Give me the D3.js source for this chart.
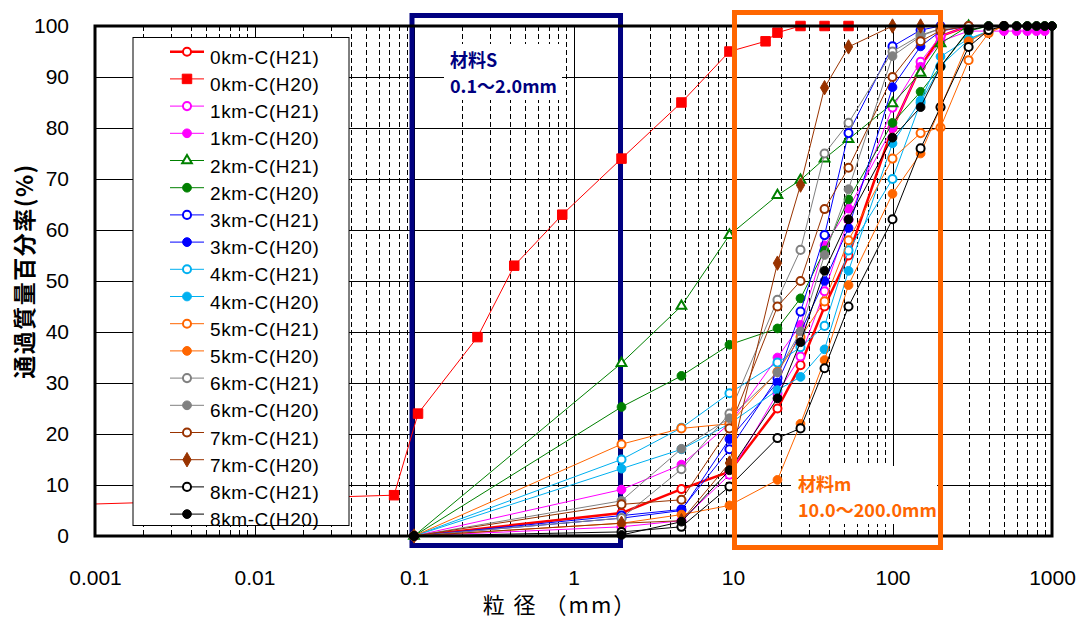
<!DOCTYPE html>
<html>
<head>
<meta charset="utf-8">
<script src="https://cdn.jsdelivr.net/npm/d3@7"></script>
<style>
  html, body { margin: 0; padding: 0; background: #fff; }
  svg { display: block; }
  text { font-family: "Liberation Sans", Arial, "Noto Sans CJK JP", sans-serif; }
  .jp { font-family: "Noto Sans CJK JP", "Liberation Sans", sans-serif; }
</style>
</head>
<body>
<svg id="chart" width="1085" height="619"></svg>
<script>
// Sieve sizes (mm) shared by the 1km–8km samples
const sizes = [0.1, 2, 4.75, 9.5, 19, 26.5, 37.5, 53, 100, 150, 200, 300, 400, 500, 600, 700, 800, 900, 1000];
// 0km-C(H20) was measured on a finer sieve set
const sizes0H20 = [0.0005, 0.075, 0.106, 0.25, 0.425, 0.85, 2, 4.75, 9.5, 16, 19, 26.5, 37.5, 53];

// Percent passing by mass (null = no value at that sieve)
const km0H21 = [0, 4.5, 9.2, 12.6, 25, 33.5, 45, 55, 80, 92, 98, 100, null, null, null, null, null, null, null];
const km0H20 = [6, 8, 24, 39, 53, 63, 74, 85, 95, 97, 98.7, 100, 100, 100];
const km1H21 = [0, 1.8, 3, 12, 28, 35.2, 48, 62, 84, 93, 98, 100, null, null, null, null, null, null, null];
const km1H20 = [0, 9.1, 14, 22, 35, 41.4, 57, 64.2, 80, 92, 97, 99, 99, 99, 99, 99, 99, 99, null];
const km2H21 = [0, 33.9, 45.1, 59, 66.8, 69.8, 74, 77.8, 84.8, 90.8, 96.6, 100, null, null, null, null, null, null, null];
const km2H20 = [0, 25.3, 31.4, 37.5, 40.7, 46.6, 56, 66, 81, 87.1, 92, 99, 100, 100, 100, 100, 100, 100, 100];
const km3H21 = [0, 4, 5.2, 17, 31, 44, 59, 79, 96, 99.2, 100, null, null, null, null, null, null, null, null];
const km3H20 = [0, 3.5, 5, 19, 30.1, 40, 50, 60.4, 88, 96, 99, 100, null, null, null, null, null, null, null];
const km4H21 = [0, 15, 21.2, 28, 34, 37, 41.2, 56, 70, 85, 92.2, 97.3, 99, 100, null, null, null, null, null];
const km4H20 = [0, 13.2, 17, 22, 28.6, 31.2, 36.6, 52, 77, 85.4, 94, 97.5, 99, 100, null, null, null, null, null];
const km5H21 = [0, 18, 21.1, 22, 32.2, 39, 46, 58, 74, 79, 80.1, 93.3, 98.6, 100, null, null, null, null, null];
const km5H20 = [0, 2.5, 4.2, 6, 11, 22, 34.5, 49.2, 67.1, 75, 84, 97, 99, 100, null, null, null, null, null];
const km6H21 = [0, 3.5, 13.1, 24, 46.3, 56.1, 75, 81, 95, 98.2, 99.5, 100, null, null, null, null, null, null, null];
const km6H20 = [0, 6.9, 17.1, 23.1, 32.1, 40.1, 55.1, 68, 94.1, 98, 99.5, 100, null, null, null, null, null, null, null];
const km7H21 = [0, 6.2, 7.1, 21.1, 45, 50, 64.1, 72.2, 90, 97, 99.1, 100, null, null, null, null, null, null, null];
const km7H20 = [0, 2.5, 3, 14.3, 53.5, 68.8, 87.9, 95.9, 100, 100, 100, null, null, null, null, null, null, null, null];
const km8H21 = [0, 0.8, 1.8, 9.7, 19.2, 21.1, 32.9, 45, 62.1, 76, 84.1, 95.9, 99.2, 100, null, null, null, null, null];
const km8H20 = [0, 0.2, 2.8, 12.9, 27, 38, 52, 62.1, 78.1, 84.1, 92, 99.2, 100, 100, 100, 100, 100, 100, 100];

const seriesNames = ["0km-C(H21)", "0km-C(H20)", "1km-C(H21)", "1km-C(H20)", "2km-C(H21)", "2km-C(H20)",
  "3km-C(H21)", "3km-C(H20)", "4km-C(H21)", "4km-C(H20)", "5km-C(H21)", "5km-C(H20)",
  "6km-C(H21)", "6km-C(H20)", "7km-C(H21)", "7km-C(H20)", "8km-C(H21)", "8km-C(H20)"];
const seriesValues = [km0H21, km0H20, km1H21, km1H20, km2H21, km2H20, km3H21, km3H20, km4H21, km4H20,
  km5H21, km5H20, km6H21, km6H20, km7H21, km7H20, km8H21, km8H20];
const seriesSizes = seriesNames.map((n, i) => i === 1 ? sizes0H20 : sizes);

const xTicks = [0.001, 0.01, 0.1, 1, 10, 100, 1000];
const xTickLabels = ["0.001", "0.01", "0.1", "1", "10", "100", "1000"];
const yTicks = [0, 10, 20, 30, 40, 50, 60, 70, 80, 90, 100];

// Appearance per series: colour, marker shape, filled or hollow, line width
const styles = [
  { c: "#ff0000", m: "circle", f: false, w: 2.5 },
  { c: "#ff0000", m: "square", f: true, w: 1 },
  { c: "#ff00ff", m: "circle", f: false, w: 1 },
  { c: "#ff00ff", m: "circle", f: true, w: 1 },
  { c: "#008000", m: "triangle", f: false, w: 1 },
  { c: "#008000", m: "circle", f: true, w: 1 },
  { c: "#0000ff", m: "circle", f: false, w: 1 },
  { c: "#0000ff", m: "circle", f: true, w: 1 },
  { c: "#00b0f0", m: "circle", f: false, w: 1 },
  { c: "#00b0f0", m: "circle", f: true, w: 1 },
  { c: "#ff6600", m: "circle", f: false, w: 1 },
  { c: "#ff6600", m: "circle", f: true, w: 1 },
  { c: "#808080", m: "circle", f: false, w: 1 },
  { c: "#808080", m: "circle", f: true, w: 1 },
  { c: "#993300", m: "circle", f: false, w: 1 },
  { c: "#993300", m: "diamond", f: true, w: 1 },
  { c: "#000000", m: "circle", f: false, w: 1 },
  { c: "#000000", m: "circle", f: true, w: 1 }
];

const svg = d3.select("#chart");
const L = 95, R = 1052, T = 26, B = 536;

const x = d3.scaleLog().domain([0.001, 1000]).range([L, R]);
const y = d3.scaleLinear().domain([0, 100]).range([B, T]);

svg.append("defs").append("clipPath").attr("id", "plotClip")
  .append("rect").attr("x", L).attr("y", 0).attr("width", R - L + 12).attr("height", 619);

// Minor (dashed) vertical gridlines
const minor = [];
for (let e = -3; e < 3; e++) for (let k = 2; k <= 9; k++) minor.push(k * Math.pow(10, e));
svg.append("g").attr("shape-rendering", "crispEdges").selectAll("line").data(minor).join("line")
  .attr("x1", d => Math.round(x(d)) + 0.5).attr("x2", d => Math.round(x(d)) + 0.5).attr("y1", T).attr("y2", B)
  .attr("stroke", "#000").attr("stroke-width", 1).attr("stroke-dasharray", "5,3");

// Major gridlines through the axis generators
svg.append("g").attr("transform", `translate(0,${B})`).attr("shape-rendering", "crispEdges")
  .call(d3.axisBottom(x).tickValues(xTicks).tickSize(-(B - T)).tickFormat(""))
  .call(g => g.select(".domain").remove())
  .call(g => g.selectAll("line").attr("stroke", "#000").attr("stroke-width", 1));
svg.append("g").attr("transform", `translate(${L},0)`).attr("shape-rendering", "crispEdges")
  .call(d3.axisLeft(y).tickValues(yTicks).tickSize(-(R - L)).tickFormat(""))
  .call(g => g.select(".domain").remove())
  .call(g => g.selectAll("line").attr("stroke", "#000").attr("stroke-width", 1.5));

// Tick labels
svg.append("g").attr("transform", `translate(0,${B})`)
  .call(d3.axisBottom(x).tickValues(xTicks).tickSize(0).tickPadding(34)
    .tickFormat((d, i) => xTickLabels[i]))
  .call(g => g.select(".domain").remove())
  .call(g => g.selectAll("text").attr("font-size", 21).attr("fill", "#000")
    .attr("font-family", "Liberation Sans, Arial, sans-serif"));
svg.append("g").attr("transform", `translate(${L},0)`)
  .call(d3.axisLeft(y).tickValues(yTicks).tickSize(0).tickPadding(26))
  .call(g => g.select(".domain").remove())
  .call(g => g.selectAll("text").attr("font-size", 21).attr("fill", "#000")
    .attr("font-family", "Liberation Sans, Arial, sans-serif"));

// Range of material S (0.1–2.0 mm)
svg.append("rect")
  .attr("x", x(0.1) - 2).attr("y", 15.5).attr("width", x(2) - x(0.1) + 1).attr("height", 530)
  .attr("fill", "none").attr("stroke", "#000080").attr("stroke-width", 5);
svg.append("rect").attr("x", 444).attr("y", 44).attr("width", 118).attr("height", 56).attr("fill", "#fff");
const sLabel = svg.append("text").attr("class", "jp").attr("fill", "#000080")
  .attr("font-size", 18).attr("font-weight", "bold");
sLabel.append("tspan").attr("x", 450).attr("y", 67).text("材料S");
sLabel.append("tspan").attr("x", 450).attr("y", 93).text("0.1～2.0mm");

// Marker symbols
const symbolFor = { circle: d3.symbolCircle, square: d3.symbolSquare, diamond: d3.symbolDiamond, triangle: d3.symbolTriangle };
const sizeFor = { circle: 60, square: 90, diamond: 60, triangle: 48 };
function marker(sel, st) {
  sel.attr("d", d3.symbol().type(symbolFor[st.m]).size(st.f ? sizeFor[st.m] : sizeFor[st.m] * 0.85))
    .attr("fill", st.f ? st.c : "#fff")
    .attr("stroke", st.c)
    .attr("stroke-width", st.f ? 1 : 2);
}

const line = d3.line().defined(d => d[1] != null).x(d => x(d[0])).y(d => y(d[1]));
const dataG = svg.append("g");
seriesNames.forEach((name, i) => {
  const st = styles[i];
  const pts = seriesSizes[i].map((s, j) => [s, seriesValues[i][j]]).filter(d => d[1] != null);
  const g = dataG.append("g");
  g.append("path").datum(pts).attr("d", line).attr("fill", "none")
    .attr("stroke", st.c).attr("stroke-width", st.w).attr("clip-path", "url(#plotClip)");
  g.selectAll("path.mk").data(pts.filter(d => d[0] >= 0.001)).join("path").attr("class", "mk")
    .attr("transform", d => `translate(${x(d[0])},${y(d[1])})`)
    .call(marker, st);
});

// Plot frame
svg.append("rect").attr("x", L).attr("y", T).attr("width", R - L).attr("height", B - T)
  .attr("fill", "none").attr("stroke", "#000").attr("stroke-width", 3);

// Range of material m (10.0–200.0 mm)
svg.append("rect")
  .attr("x", x(10) + 1.5).attr("y", 12.5).attr("width", x(200) - x(10) - 1.5).attr("height", 535)
  .attr("fill", "none").attr("stroke", "#ff6600").attr("stroke-width", 5);
svg.append("rect").attr("x", 791).attr("y", 466).attr("width", 146).attr("height", 58).attr("fill", "#fff");
const mLabel = svg.append("text").attr("class", "jp").attr("fill", "#ff6600")
  .attr("font-size", 18).attr("font-weight", "bold");
mLabel.append("tspan").attr("x", 798).attr("y", 491).text("材料m");
mLabel.append("tspan").attr("x", 798).attr("y", 517).text("10.0～200.0mm");

// Legend
const lg = svg.append("g");
lg.append("rect").attr("x", 133).attr("y", 37.5).attr("width", 216).attr("height", 488)
  .attr("fill", "#fff").attr("stroke", "#000").attr("stroke-width", 1);
seriesNames.forEach((name, i) => {
  const st = styles[i];
  const cy = 51.7 + i * 27.2;
  lg.append("line").attr("x1", 170).attr("x2", 204).attr("y1", cy).attr("y2", cy)
    .attr("stroke", st.c).attr("stroke-width", st.w);
  lg.append("path").attr("transform", `translate(187,${cy})`).call(marker, st);
  lg.append("text").attr("x", 210).attr("y", cy + 12).attr("font-size", 19)
    .attr("letter-spacing", 0.6).attr("fill", "#000").text(name);
});

// Axis titles
svg.append("text").attr("class", "jp").attr("x", 560).attr("y", 613)
  .attr("text-anchor", "middle").attr("font-size", 22).attr("letter-spacing", 2).text("粒 径 （mm）");
svg.append("text").attr("class", "jp")
  .attr("transform", "translate(33,271) rotate(-90)")
  .attr("text-anchor", "middle").attr("font-size", 23).attr("font-weight", "bold")
  .attr("letter-spacing", 1.5)
  .text("通過質量百分率(%)");
</script>
</body>
</html>
